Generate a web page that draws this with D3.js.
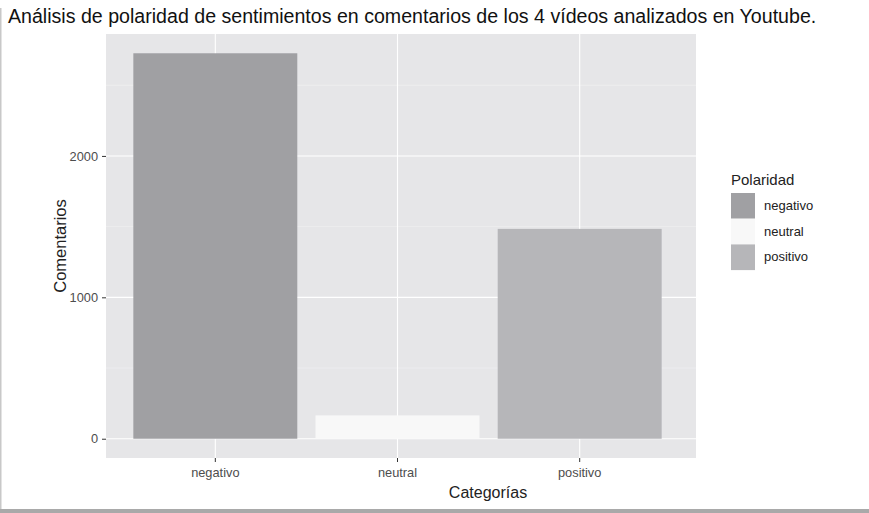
<!DOCTYPE html>
<html>
<head>
<meta charset="utf-8">
<script src="https://cdn.jsdelivr.net/npm/d3@7"></script>
<style>
  body { margin: 0; background: #fff; }
  text { font-family: "Liberation Sans", Arial, sans-serif; }
</style>
</head>
<body>
<div id="chart"></div>
<script>
const categories = ['negativo', 'neutral', 'positivo'];
const counts = [2726, 165, 1484];
const fills = ['#a0a0a3', '#f8f8f8', '#b6b6b9'];
const yTicks = [0, 1000, 2000];
const yMinor = [500, 1500, 2500];

const width = 869, height = 513;
const panel = { left: 106, top: 34, right: 696, bottom: 458 };

const svg = d3.select('#chart').append('svg')
    .attr('width', width)
    .attr('height', height);

// frame around the picture
svg.append('rect').attr('x', 0).attr('y', 8).attr('width', 1.5).attr('height', height - 8).attr('fill', '#c8c8c8');
svg.append('rect').attr('x', 0).attr('y', 509).attr('width', width).attr('height', 4).attr('fill', '#a9a9a9');

const x = d3.scaleBand()
    .domain(categories)
    .range([panel.left, panel.left + 583])
    .paddingInner(0.1)
    .paddingOuter(0.15);

const ymax = d3.max(counts);
const y = d3.scaleLinear()
    .domain([-0.05 * ymax, 1.05 * ymax])
    .range([panel.bottom, panel.top]);

svg.append('rect')
    .attr('x', panel.left).attr('y', panel.top)
    .attr('width', panel.right - panel.left)
    .attr('height', panel.bottom - panel.top)
    .attr('fill', '#e6e6e8');

const g = svg.append('g');

g.selectAll('.minor')
    .data(yMinor)
    .join('line')
    .attr('x1', panel.left).attr('x2', panel.right)
    .attr('y1', d => y(d)).attr('y2', d => y(d))
    .attr('stroke', '#f2f2f3').attr('stroke-width', 0.6);

g.selectAll('.hmajor')
    .data(yTicks)
    .join('line')
    .attr('x1', panel.left).attr('x2', panel.right)
    .attr('y1', d => y(d)).attr('y2', d => y(d))
    .attr('stroke', '#fff').attr('stroke-width', 1.1);

g.selectAll('.vmajor')
    .data(categories)
    .join('line')
    .attr('x1', d => x(d) + x.bandwidth() / 2).attr('x2', d => x(d) + x.bandwidth() / 2)
    .attr('y1', panel.top).attr('y2', panel.bottom)
    .attr('stroke', '#fff').attr('stroke-width', 1.1);

g.selectAll('.bar')
    .data(categories)
    .join('rect')
    .attr('x', d => x(d))
    .attr('width', x.bandwidth())
    .attr('y', (d, i) => y(counts[i]))
    .attr('height', (d, i) => y(0) - y(counts[i]))
    .attr('fill', (d, i) => fills[i]);

// axes
const yAxis = svg.append('g')
    .attr('transform', `translate(${panel.left},0)`)
    .call(d3.axisLeft(y).tickValues(yTicks).tickFormat(d3.format('d')).tickSize(4).tickPadding(4));
const xAxis = svg.append('g')
    .attr('transform', `translate(0,${panel.bottom})`)
    .call(d3.axisBottom(x).tickSize(4).tickPadding(6));

[yAxis, xAxis].forEach(a => {
    a.select('.domain').remove();
    a.selectAll('.tick line').attr('stroke', '#333');
    a.selectAll('.tick text').attr('fill', '#4d4d4d').style('font-size', '12.8px')
        .style('font-family', '"Liberation Sans", Arial, sans-serif');
});

svg.append('text')
    .attr('x', 8).attr('y', 23)
    .attr('fill', '#111')
    .style('font-size', '19.6px')
    .text('Análisis de polaridad de sentimientos en comentarios de los 4 vídeos analizados en Youtube.');

svg.append('text')
    .attr('x', 488).attr('y', 498)
    .attr('text-anchor', 'middle')
    .attr('fill', '#222')
    .style('font-size', '16px')
    .text('Categorías');

svg.append('text')
    .attr('transform', `translate(66,${(panel.top + panel.bottom) / 2}) rotate(-90)`)
    .attr('text-anchor', 'middle')
    .attr('fill', '#222')
    .style('font-size', '16.5px')
    .text('Comentarios');

// legend
const legend = svg.append('g').attr('transform', 'translate(731,0)');
legend.append('text')
    .attr('x', 0).attr('y', 185)
    .attr('fill', '#222')
    .style('font-size', '15px')
    .text('Polaridad');

const key = legend.selectAll('.key')
    .data(categories)
    .join('g')
    .attr('transform', (d, i) => `translate(0,${193 + i * 25.7})`);
key.append('rect')
    .attr('width', 24).attr('height', 25.7)
    .attr('fill', (d, i) => fills[i]);
key.append('text')
    .attr('x', 33).attr('y', 17)
    .attr('fill', '#222')
    .style('font-size', '13px')
    .text(d => d);
</script>
</body>
</html>
